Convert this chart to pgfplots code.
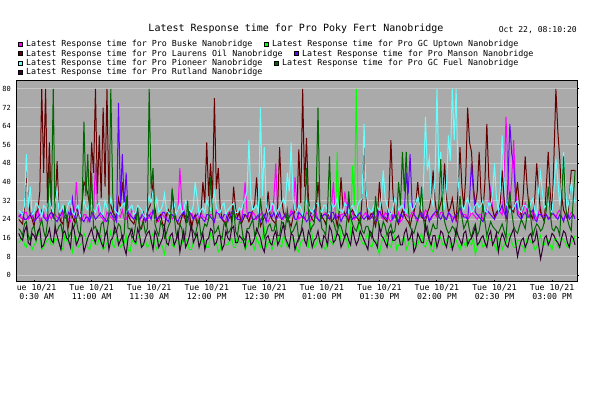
\documentclass[border=0pt]{standalone}
\usepackage{fontspec}
\setmonofont{DejaVu Sans Mono}
\usepackage{pgfplots}
\usepackage{pgfplotstable}
\pgfplotsset{compat=1.18}
\definecolor{bggray}{HTML}{AAAAAA}
\definecolor{gridgray}{HTML}{C6C6C6}
\definecolor{cBuske}{HTML}{FF00FF}
\definecolor{cUptown}{HTML}{00FF00}
\definecolor{cLaurens}{HTML}{660000}
\definecolor{cManson}{HTML}{6600FF}
\definecolor{cPioneer}{HTML}{66FFFF}
\definecolor{cFuel}{HTML}{006600}
\definecolor{cRutland}{HTML}{330033}
\pgfplotstableread{
t B U L M P F R
-8 26 14 24 25 28 20 18
-7 25 15 23 26 27 19 16
-6 24 17 22 27 26 17 15
-5 27 13 29 24 30 22 19
-4 27 12 45 24 52 23 21
-3 24 16 33 25 29 17 14
-2 25 15 26 26 38 15 13
-1 26 11 24 27 26 20 18
0 23 13 21 23 27 21 17
1 25 14 27 24 31 16 15
2 28 18 28 25 30 18 19
3 23 17 36 26 28 21 20
4 25 11 80 28 25 24 12
5 27 12 44 25 30 19 13
6 24 14 80 24 29 16 16
7 25 15 31 23 27 23 17
8 26 16 57 26 33 47 20
9 24 13 28 27 29 30 15
10 27 13 25 25 27 80 14
11 26 16 30 24 31 18 21
12 25 15 49 23 37 19 17
13 24 14 26 25 27 21 14
14 23 12 23 26 28 22 11
15 27 11 22 28 30 17 18
16 26 17 27 25 26 30 19
17 25 15 25 24 28 24 16
18 24 14 21 27 31 16 15
19 23 13 28 26 32 18 12
20 27 10 25 33 27 20 22
21 26 17 23 25 26 21 19
22 40 16 29 24 29 24 13
23 28 12 27 27 30 19 15
24 25 13 24 26 25 17 18
25 24 14 31 24 27 28 17
26 26 18 40 23 32 66 10
27 26 16 38 25 29 34 13
28 23 12 35 25 28 52 16
29 25 11 30 23 31 25 18
30 25 15 57 27 30 44 20
31 27 15 44 26 28 20 16
32 48 13 80 24 27 21 14
33 31 13 35 25 30 18 19
34 26 16 60 26 31 16 17
35 25 17 33 27 27 22 14
36 24 11 72 25 26 23 12
37 23 12 38 24 32 17 17
38 27 14 80 23 29 19 19
39 26 15 31 26 28 24 11
40 25 19 30 27 33 80 15
41 24 13 27 25 30 35 16
42 23 12 26 25 28 18 21
43 27 16 24 23 27 19 19
44 26 15 33 74 26 22 13
45 25 12 29 31 29 21 15
46 28 13 40 52 30 15 17
47 24 14 31 30 31 18 12
48 24 17 28 44 27 34 9
49 26 11 26 27 28 20 16
50 25 10 24 26 29 20 18
51 28 15 23 25 30 16 20
52 27 14 22 24 26 17 15
53 25 13 25 26 27 22 14
54 24 16 27 27 30 29 20
55 23 17 21 24 29 19 17
56 26 12 20 25 28 21 12
57 26 14 24 27 26 23 13
58 23 15 25 23 25 18 16
59 24 12 27 25 30 20 18
60 25 13 29 26 34 80 19
61 27 16 31 24 31 37 15
62 27 18 40 28 36 46 11
63 25 13 29 26 29 22 19
64 24 11 23 24 33 19 17
65 23 15 25 25 27 17 12
66 26 14 26 25 28 23 14
67 26 12 22 27 30 21 16
68 25 9 21 27 35 16 21
69 24 14 26 24 28 18 14
70 28 16 28 23 27 21 13
71 27 17 24 26 26 23 17
72 24 13 36 26 29 37 18
73 25 12 30 25 31 26 13
74 26 15 24 24 26 18 15
75 28 15 22 23 28 16 19
76 46 12 22 25 31 22 10
77 31 13 25 26 27 20 15
78 25 17 27 28 28 15 19
79 24 16 23 25 32 18 12
80 23 14 25 23 30 32 14
81 26 11 27 27 28 22 17
82 27 11 20 26 27 20 22
83 25 14 24 24 30 19 14
84 24 16 26 25 40 17 16
85 23 17 22 26 33 21 18
86 26 13 23 27 26 24 12
87 27 13 27 25 28 17 15
88 25 15 40 24 29 19 18
89 25 15 31 23 27 22 11
90 24 12 57 26 32 21 15
91 24 12 34 26 30 24 16
92 26 18 48 25 28 42 20
93 26 16 33 24 31 27 19
94 23 14 76 23 36 18 13
95 28 14 37 27 29 19 14
96 27 10 46 27 27 21 17
97 25 11 29 25 27 17 17
98 25 16 24 24 30 16 11
99 23 15 23 26 31 22 13
100 24 13 21 26 26 23 19
101 27 13 25 23 28 18 16
102 26 15 27 25 29 19 15
103 25 16 23 27 30 21 20
104 28 12 38 28 31 30 21
105 24 12 29 25 27 19 14
106 25 17 25 24 27 17 14
107 26 14 27 24 29 23 17
108 23 14 22 23 28 22 16
109 29 17 24 26 31 16 15
110 40 11 26 26 33 15 12
111 27 13 25 25 36 20 19
112 25 15 23 27 58 20 18
113 24 15 26 27 33 22 13
114 27 13 28 24 28 24 14
115 26 11 31 24 29 17 16
116 24 16 42 25 30 18 20
117 25 14 28 26 27 21 18
118 26 12 21 23 72 33 16
119 27 16 23 25 34 25 12
120 25 20 25 26 55 16 10
121 24 12 27 23 30 18 16
122 23 14 36 28 27 21 17
123 25 15 26 26 28 22 14
124 27 11 24 25 31 19 13
125 33 13 23 27 30 19 17
126 48 15 22 24 26 23 19
127 26 17 30 25 28 17 13
128 25 13 55 27 29 17 15
129 24 12 33 24 31 23 19
130 24 17 27 25 33 22 22
131 27 15 25 26 30 20 16
132 26 12 25 23 44 28 14
133 25 13 23 25 36 22 12
134 28 16 21 26 57 18 18
135 26 16 25 27 33 19 17
136 42 14 28 24 28 21 11
137 30 11 27 24 27 23 14
138 24 10 54 27 30 15 16
139 25 14 31 26 29 18 18
140 25 15 80 25 26 24 20
141 24 16 38 25 28 28 15
142 27 13 59 23 32 46 13
143 26 12 33 24 30 27 19
144 23 22 26 26 28 19 17
145 25 17 24 27 27 21 12
146 26 12 23 28 29 22 15
147 27 13 28 25 31 33 16
148 24 16 40 24 31 72 19
149 24 15 30 23 28 27 14
150 25 14 25 25 27 20 12
151 26 12 24 26 30 19 17
152 27 11 22 26 30 17 16
153 25 16 25 25 27 29 13
154 24 15 27 24 26 51 21
155 29 14 23 27 31 24 19
156 40 13 24 27 29 23 14
157 27 18 26 24 30 20 15
158 25 53 21 25 33 18 18
159 24 24 27 26 28 22 17
160 26 14 42 23 28 21 12
161 26 13 29 25 27 18 14
162 36 17 26 26 31 16 17
163 29 15 25 27 30 23 18
164 24 12 23 31 27 36 15
165 25 19 27 26 29 25 13
166 27 47 28 24 30 22 20
167 24 30 26 25 28 20 16
168 25 80 25 25 26 19 13
169 26 21 24 26 31 22 15
170 23 16 22 27 32 24 19
171 25 14 33 25 33 19 17
172 26 13 60 24 65 18 15
173 27 16 35 25 37 21 13
174 24 18 24 26 29 21 11
175 25 13 25 24 28 18 19
176 27 12 27 25 27 16 18
177 24 15 24 27 30 22 15
178 25 15 21 23 31 34 14
179 26 12 26 24 29 25 12
180 28 9 40 28 28 20 21
181 25 14 30 26 32 19 17
182 24 16 25 25 45 23 16
183 27 17 24 25 33 21 14
184 26 14 23 24 30 17 12
185 24 13 33 27 27 20 18
186 23 12 58 27 26 22 19
187 26 15 36 24 29 18 15
188 25 17 26 26 33 19 15
189 25 11 24 25 31 25 16
190 27 13 22 23 28 40 17
191 23 14 25 26 29 30 13
192 24 15 28 25 30 53 13
193 26 16 26 27 28 36 18
194 26 11 24 44 27 53 20
195 25 13 23 35 30 29 15
196 25 16 21 52 31 21 16
197 27 15 25 31 28 19 19
198 27 14 27 26 29 18 10
199 24 12 31 25 31 21 12
200 23 13 40 24 34 24 18
201 26 16 30 26 30 27 16
202 25 18 25 27 28 38 14
203 25 13 24 24 40 24 14
204 28 12 23 25 68 19 22
205 27 15 27 26 45 21 18
206 24 15 29 23 50 16 15
207 24 11 33 25 33 19 13
208 26 10 45 26 30 22 17
209 26 14 32 27 42 20 17
210 25 14 26 28 80 20 12
211 25 17 28 25 44 31 15
212 27 16 31 24 53 50 19
213 27 13 35 26 32 28 18
214 24 13 48 25 29 23 14
215 24 15 33 24 38 20 12
216 26 17 27 27 60 18 17
217 26 12 29 26 49 19 16
218 25 12 33 23 80 21 11
219 25 16 27 25 58 20 14
220 23 15 24 26 80 17 20
221 27 13 36 27 41 24 17
222 28 11 55 29 31 34 15
223 25 15 38 27 30 25 13
224 26 14 29 25 28 20 18
225 26 12 42 25 31 22 19
226 24 16 72 24 33 24 13
227 25 14 57 33 30 19 15
228 27 13 53 48 27 16 16
229 26 16 38 36 28 20 18
230 25 9 30 27 30 22 21
231 24 12 36 26 31 17 13
232 26 14 53 25 29 19 14
233 26 15 34 24 30 24 16
234 24 12 27 23 32 30 17
235 25 13 40 26 28 23 14
236 27 17 65 28 27 17 12
237 31 16 42 27 31 20 17
238 37 15 32 26 30 23 19
239 29 14 28 25 35 21 13
240 25 13 25 24 48 20 15
241 26 11 27 26 33 19 18
242 28 16 28 27 28 18 10
243 27 15 31 28 37 20 15
244 26 11 45 30 60 22 18
245 40 13 33 27 41 19 16
246 68 14 24 25 31 16 13
247 45 17 27 40 29 28 12
248 30 18 30 65 27 36 16
249 42 14 28 52 28 27 18
250 58 12 27 48 29 21 20
251 36 12 33 33 31 19 14
252 28 15 40 26 32 18 8
253 26 15 30 25 28 21 12
254 26 13 25 24 27 24 15
255 28 12 35 26 30 22 16
256 31 10 51 27 30 20 12
257 27 16 38 25 29 26 14
258 25 16 29 25 28 32 17
259 25 14 26 27 31 24 18
260 27 14 24 28 33 17 14
261 26 11 33 24 28 20 15
262 24 12 48 23 26 22 19
263 27 15 36 26 37 21 13
264 29 17 27 26 44 19 7
265 25 13 25 25 35 20 11
266 26 13 23 25 29 23 16
267 26 16 38 26 30 28 17
268 25 15 53 24 31 38 13
269 24 13 36 25 28 27 15
270 27 11 26 27 27 20 18
271 26 15 51 26 37 19 17
272 25 16 80 25 50 21 15
273 27 12 62 24 41 20 14
274 28 13 50 26 30 17 12
275 25 16 34 25 39 33 16
276 24 15 28 23 53 51 19
277 26 14 26 26 37 30 18
278 26 12 24 27 28 24 14
279 25 12 33 24 33 21 12
280 27 14 45 25 40 19 17
281 26 15 45 26 35 32 16
282 25 17 45 24 31 45 13
}\data
\newcommand{\lgfont}{\ttfamily\fontsize{8.35}{9.6}\selectfont}
\begin{document}
\begin{tikzpicture}
\useasboundingbox (0pt,0pt) rectangle (616pt,393pt);
\begin{axis}[
  at={(17pt,111pt)}, anchor=south west,
  scale only axis, width=560pt, height=201pt,
  xmin=-8.9, xmax=283, ymin=-2.9, ymax=83.4,
  axis background/.style={fill=bggray},
  axis line style={line width=1pt, black},
  ytick={0,8,...,80},
  ymajorgrids, grid style={gridgray, line width=1pt},
  xtick={0,30,...,270},
  xticklabels={{\phantom{T}ue 10/21\\\phantom{1}0:30 AM},{Tue 10/21\\11:00 AM},{Tue 10/21\\11:30 AM},{Tue 10/21\\12:00 PM},{Tue 10/21\\12:30 PM},{Tue 10/21\\01:00 PM},{Tue 10/21\\01:30 PM},{Tue 10/21\\02:00 PM},{Tue 10/21\\02:30 PM},{Tue 10/21\\03:00 PM}},
  xticklabel style={align=center, font=\ttfamily\fontsize{8.2}{9}\selectfont, inner sep=0pt, yshift=-2.5pt},
  yticklabel style={font=\ttfamily\fontsize{7}{8}\selectfont, inner sep=0pt, xshift=-6pt},
  /pgf/number format/assume math mode=true,
  tick align=inside, major tick length=2pt,
  tick style={black, line width=1pt},
  xtick pos=bottom, ytick pos=right, yticklabel pos=left,
  y tick style={xshift=2pt},
  every axis plot/.append style={line width=1pt, no marks, sharp plot},
]
\addplot[cBuske] table[x=t,y=B]{\data};
\addplot[cUptown] table[x=t,y=U]{\data};
\addplot[cLaurens] table[x=t,y=L]{\data};
\addplot[cManson] table[x=t,y=M]{\data};
\addplot[cPioneer] table[x=t,y=P]{\data};
\addplot[cFuel] table[x=t,y=F]{\data};
\addplot[cRutland] table[x=t,y=R]{\data};
\end{axis}
\node[font=\ttfamily\fontsize{10}{12}\selectfont, anchor=base, inner sep=0pt] at (296pt,361pt) {Latest Response time for Pro Poky Fert Nanobridge};
\node[font=\ttfamily\fontsize{8.1}{9}\selectfont, anchor=base east, inner sep=0pt] at (577pt,360pt) {Oct 22, 08:10:20};
% legend
\foreach \bx/\by/\col/\txt in {
  18/346.5/cBuske/Buske Nanobridge,
  264/346.5/cUptown/GC Uptown Nanobridge,
  18/336.7/cLaurens/Laurens Oil Nanobridge,
  294/336.7/cManson/Manson Nanobridge,
  18/327.3/cPioneer/Pioneer Nanobridge,
  274/327.3/cFuel/GC Fuel Nanobridge,
  18/318/cRutland/Rutland Nanobridge}{
  \filldraw[fill=\col, draw=black, line width=0.8pt] (\bx pt+0.4pt,\by pt+0.4pt) rectangle ++(4pt,4pt);
  \node[font=\lgfont, anchor=base west, inner sep=0pt] at (\bx pt+8pt,\by pt) {Latest Response time for Pro \txt};
}
\end{tikzpicture}
\end{document}
